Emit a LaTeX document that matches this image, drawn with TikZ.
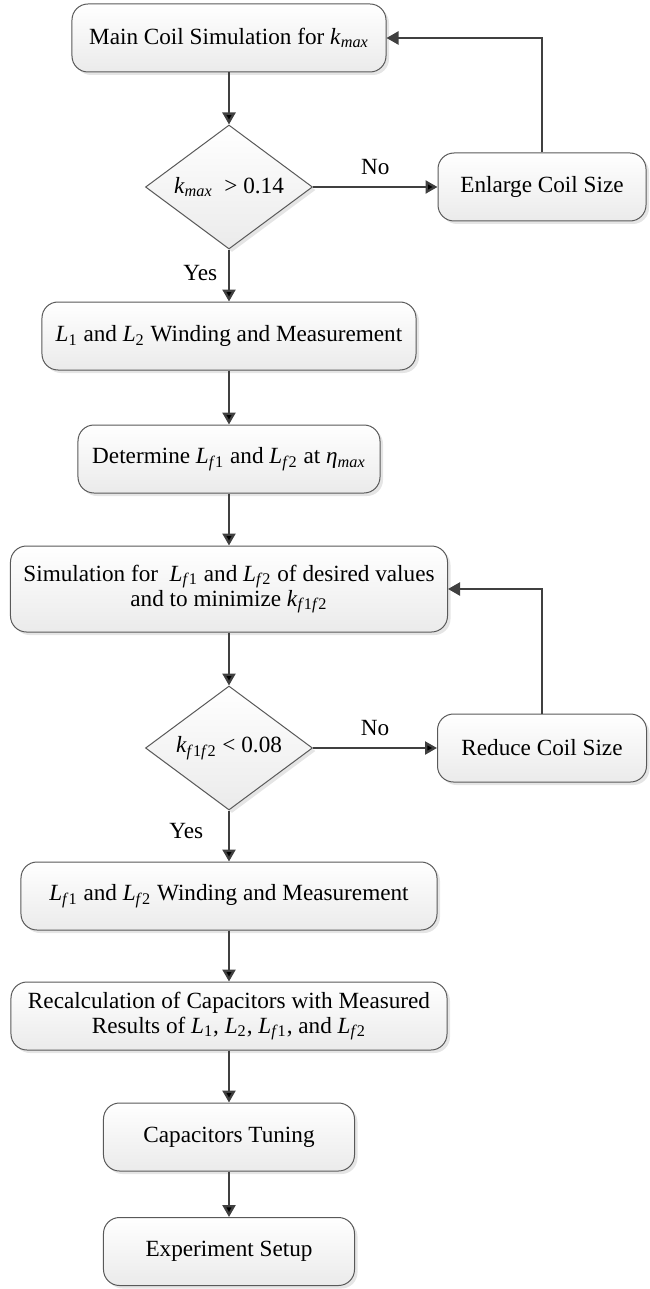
\documentclass[tikz,border=0pt]{standalone}
\usepackage{fontspec}
\setmainfont{Liberation Serif}
\usepackage{tikz}
\usetikzlibrary{positioning, arrows.meta, shapes.geometric, shadows}

\newcommand{\vsub}[2]{\textit{#1}\textsubscript{#2}}

\tikzset{
  proc/.style={draw=black!65, line width=0.5pt, rounded corners=8pt,
    top color=white, bottom color=black!8,
    drop shadow={shadow xshift=1.5pt, shadow yshift=-1.5pt, fill=black!20},
    align=center, minimum height=34pt, inner sep=2pt},
  decide/.style={diamond, aspect=1.6, draw=black!65, line width=0.5pt,
    top color=white, bottom color=black!8,
    drop shadow={shadow xshift=1.5pt, shadow yshift=-1.5pt, fill=black!20},
    minimum width=83.5pt, minimum height=62pt, inner sep=0pt},
  flow/.style={draw=black!75, line width=1.15pt,
    -{Triangle[length=6pt,width=6.5pt]}}
}

\begin{document}
\begin{tikzpicture}
[font=\fontsize{11.6}{12.5}\selectfont, on grid, node distance=74.5pt]
\useasboundingbox (-114.5pt,19pt) rectangle (210pt,-625.5pt);

\node[proc, minimum width=157pt] (main) {Main Coil Simulation for \vsub{k}{\textit{max}}};
\node[decide, below=of main] (dec1) {\vsub{k}{\textit{max}}\ \ > 0.14};
\node[proc, right=156.5pt of dec1, minimum width=104pt] (enlarge) {Enlarge Coil Size};
\node[proc, below=of dec1, minimum width=187pt] (wind12)
  {\vsub{L}{1} and \vsub{L}{2} Winding and Measurement};
\node[proc, below=61.5pt of wind12, minimum width=151pt] (detf)
  {Determine \vsub{L}{\textit{f}1} and \vsub{L}{\textit{f}2} at \vsub{η}{\textit{max}}};
\node[proc, below=65pt of detf, minimum width=218.5pt, minimum height=43pt] (simf)
  {Simulation for\ \ \vsub{L}{\textit{f}1} and \vsub{L}{\textit{f}2} of desired values\\
   and to minimize \vsub{k}{\textit{f}1\textit{f}2}};
\node[decide, below=79.5pt of simf] (dec2) {\vsub{k}{\textit{f}1\textit{f}2} < 0.08};
\node[proc, right=156.5pt of dec2, minimum width=104.5pt] (reduce) {Reduce Coil Size};
\node[proc, below=74pt of dec2, minimum width=208pt] (windf)
  {\vsub{L}{\textit{f}1} and \vsub{L}{\textit{f}2} Winding and Measurement};
\node[proc, below=60pt of windf, minimum width=218pt] (recalc)
  {Recalculation of Capacitors with Measured\\
   Results of \vsub{L}{1}, \vsub{L}{2}, \vsub{L}{\textit{f}1}, and \vsub{L}{\textit{f}2}};
\node[proc, below=60.5pt of recalc, minimum width=125.5pt] (tune) {Capacitors Tuning};
\node[proc, below=57.25pt of tune, minimum width=125.5pt] (setup) {Experiment Setup};

\path[flow]
	(main) edge (dec1)
	(dec1) edge node[above=2pt] {No} (enlarge)
		edge node[left=2pt, pos=0.45] {Yes} (wind12)
	(wind12) edge (detf)
	(detf) edge (simf)
	(simf) edge (dec2)
	(dec2) edge node[above=2pt] {No} (reduce)
		edge node[left=9pt, pos=0.4] {Yes} (windf)
	(windf) edge (recalc)
	(recalc) edge (tune)
	(tune) edge (setup);

\draw[flow] (enlarge) |- (main);
\draw[flow] (reduce) |- (simf);
\end{tikzpicture}
\end{document}
